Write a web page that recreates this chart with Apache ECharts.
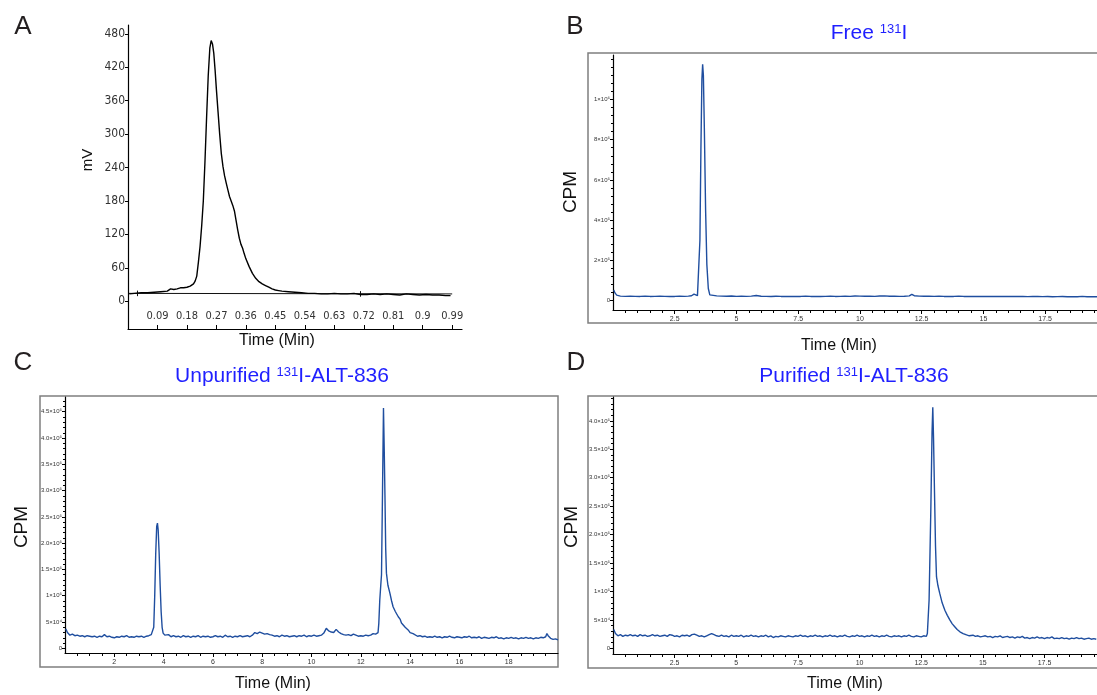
<!DOCTYPE html>
<html>
<head>
<meta charset="utf-8">
<script src="https://cdn.jsdelivr.net/npm/echarts@6/dist/echarts.min.js"></script>
<style>html,body{margin:0;padding:0;background:#fff}#c{width:1097px;height:695px}</style>
</head>
<body>
<div id="c"></div>
<script>
// ---------- Panel A : radio-HPLC/UV trace (mV vs min) ----------
const traceA = [[0.004,13],[0.02,14],[0.04,15],[0.06,15],[0.08,16],[0.10,17],[0.12,18],[0.13,22],[0.135,24],[0.14,21],[0.15,22],[0.16,24],[0.17,24],[0.18,25],[0.19,27],[0.20,31],[0.205,36],[0.21,45],[0.215,70],[0.22,98],[0.225,135],[0.23,180],[0.235,250],[0.24,330],[0.245,405],[0.25,455],[0.254,468],[0.258,462],[0.262,445],[0.266,415],[0.27,380],[0.275,340],[0.28,300],[0.285,265],[0.29,242],[0.295,225],[0.30,212],[0.305,200],[0.31,188],[0.315,180],[0.32,172],[0.325,162],[0.33,145],[0.335,128],[0.34,113],[0.345,102],[0.35,95],[0.355,85],[0.36,76],[0.37,62],[0.38,50],[0.39,41],[0.40,35],[0.41,31],[0.42,28],[0.43,25],[0.44,22],[0.45,20],[0.46,19],[0.47,18],[0.49,17],[0.51,16],[0.53,15],[0.55,14],[0.57,14],[0.59,13],[0.61,13],[0.63,14],[0.65,13],[0.67,13],[0.69,14],[0.71,12],[0.73,12],[0.75,13],[0.77,12],[0.79,13],[0.81,12],[0.83,11],[0.85,13],[0.87,12],[0.89,11],[0.91,12],[0.93,11],[0.95,11],[0.97,10],[0.985,10]];
const baselineA = [[0.002,14],[0.99,13]];
const markA1 = [[0.029,9],[0.029,19]];
const markA2 = [[0.71,8],[0.71,18]];
const xTicksA = [0.09,0.18,0.27,0.36,0.45,0.54,0.63,0.72,0.81,0.9,0.99];
const yTicksA = [0,60,120,180,240,300,360,420,480];

// ---------- Panel B : Free 131I ----------
const traceB = [[0.03,52e3],[0.08,38e3],[0.15,27e3],[0.3,22e3],[0.5,21e3],[0.7,22e3],[0.9,21e3],[1.1,20.5e3],[1.3,21.5e3],[1.5,20.5e3],[1.7,21e3],[1.9,22e3],[2.1,21e3],[2.3,20e3],[2.5,20.5e3],[2.7,21.5e3],[2.9,21e3],[3.05,22e3],[3.18,24e3],[3.28,32e3],[3.35,29e3],[3.42,24e3],[3.48,30e3],[3.52,300e3],[3.56,750e3],[3.60,1100e3],[3.63,1175e3],[3.66,1120e3],[3.70,850e3],[3.75,450e3],[3.80,180e3],[3.86,60e3],[3.92,28e3],[4.0,23e3],[4.2,23e3],[4.4,22e3],[4.6,21.5e3],[4.8,22.5e3],[5.0,21e3],[5.2,21.5e3],[5.4,20.5e3],[5.6,22e3],[5.8,25e3],[6.0,21.5e3],[6.2,21e3],[6.4,20e3],[6.6,21.5e3],[6.8,20.5e3],[7.0,21e3],[7.2,20e3],[7.4,21e3],[7.6,20.5e3],[7.8,21.5e3],[8.0,20.5e3],[8.2,21e3],[8.4,20e3],[8.6,21e3],[8.8,21.5e3],[9.0,20.5e3],[9.2,21e3],[9.4,22e3],[9.6,21e3],[9.8,22.5e3],[10.0,22e3],[10.2,21.5e3],[10.4,22e3],[10.6,21e3],[10.8,22.5e3],[11.0,23e3],[11.2,21.5e3],[11.4,22e3],[11.6,21e3],[11.8,21.5e3],[12.0,23e3],[12.1,31e3],[12.2,24e3],[12.4,22e3],[12.6,21.5e3],[12.8,22e3],[13.0,21e3],[13.2,21.5e3],[13.4,20.5e3],[13.6,21e3],[13.8,20.5e3],[14.0,21.5e3],[14.2,20.5e3],[14.4,20e3],[14.6,21e3],[14.8,20.5e3],[15.0,21e3],[15.2,20e3],[15.4,20.5e3],[15.6,21e3],[15.8,20e3],[16.0,20.5e3],[16.2,21e3],[16.4,20e3],[16.6,20.5e3],[16.8,19.5e3],[17.0,20e3],[17.2,20.5e3],[17.4,19.5e3],[17.6,20e3],[17.8,19e3],[18.0,19.5e3],[18.2,20e3],[18.4,19e3],[18.6,19.5e3],[18.8,19e3],[19.0,20.5e3],[19.2,19e3],[19.4,19.5e3],[19.6,19e3]];
const xTicksB = [2.5,5,7.5,10,12.5,15,17.5];
const yTicksB = [0,2e5,4e5,6e5,8e5,1e6];
const yLabelsB = ['0','2×10⁵','4×10⁵','6×10⁵','8×10⁵','1×10⁶'];
const yMinorB = [0,4e4,8e4,12e4,16e4,20e4,24e4,28e4,32e4,36e4,40e4,44e4,48e4,52e4,56e4,60e4,64e4,68e4,72e4,76e4,80e4,84e4,88e4,92e4,96e4,100e4,104e4,108e4,112e4,116e4,120e4];

// ---------- Panel C : Unpurified 131I-ALT-836 ----------
const traceC = [[0.03,37e3],[0.1,30e3],[0.2,25e3],[0.3,27e3],[0.4,24e3],[0.5,25e3],[0.6,23e3],[0.7,24e3],[0.8,22e3],[0.9,24e3],[1.0,23e3],[1.1,22e3],[1.2,23e3],[1.3,21e3],[1.4,23e3],[1.5,22e3],[1.6,26e3],[1.7,22e3],[1.8,23e3],[1.9,21e3],[2.0,20e3],[2.1,22e3],[2.2,21e3],[2.3,23e3],[2.4,22e3],[2.5,24e3],[2.6,21e3],[2.7,22e3],[2.8,21e3],[2.9,23e3],[3.0,22e3],[3.1,23e3],[3.2,21e3],[3.3,23e3],[3.4,24e3],[3.5,26e3],[3.56,28e3],[3.6,40e3],[3.64,100e3],[3.68,180e3],[3.72,232e3],[3.75,238e3],[3.78,225e3],[3.82,180e3],[3.86,120e3],[3.9,70e3],[3.94,40e3],[3.98,29e3],[4.05,25e3],[4.1,23e3],[4.2,26e3],[4.3,22e3],[4.4,24e3],[4.5,22e3],[4.6,23e3],[4.7,21e3],[4.8,24e3],[4.9,22e3],[5.0,23e3],[5.1,21e3],[5.2,23e3],[5.3,22e3],[5.4,24e3],[5.5,21e3],[5.6,23e3],[5.7,22e3],[5.8,23e3],[5.9,21e3],[6.0,22e3],[6.1,24e3],[6.2,22e3],[6.3,23e3],[6.4,21e3],[6.5,25e3],[6.6,22e3],[6.7,23e3],[6.8,21e3],[6.9,23e3],[7.0,22e3],[7.1,24e3],[7.2,22e3],[7.3,23e3],[7.4,24e3],[7.5,22e3],[7.6,25e3],[7.7,30e3],[7.8,28e3],[7.9,31e3],[8.0,29e3],[8.1,27e3],[8.2,28e3],[8.3,26e3],[8.4,25e3],[8.5,23e3],[8.6,24e3],[8.7,22e3],[8.8,25e3],[8.9,23e3],[9.0,24e3],[9.1,22e3],[9.2,23e3],[9.3,24e3],[9.4,22e3],[9.5,24e3],[9.6,23e3],[9.7,25e3],[9.8,22e3],[9.9,24e3],[10.0,23e3],[10.1,25e3],[10.2,23e3],[10.3,24e3],[10.4,25e3],[10.5,29e3],[10.6,38e3],[10.7,33e3],[10.8,31e3],[10.9,30e3],[11.0,36e3],[11.1,31e3],[11.2,28e3],[11.3,26e3],[11.4,25e3],[11.5,26e3],[11.6,24e3],[11.7,27e3],[11.8,25e3],[11.9,23e3],[12.0,24e3],[12.1,23e3],[12.2,25e3],[12.3,24e3],[12.4,25e3],[12.5,28e3],[12.6,27e3],[12.66,29e3],[12.7,30e3],[12.73,47e3],[12.77,92e3],[12.81,120e3],[12.84,140e3],[12.88,295e3],[12.92,457e3],[12.95,380e3],[12.98,290e3],[13.01,190e3],[13.04,143e3],[13.1,120e3],[13.18,105e3],[13.25,90e3],[13.31,79e3],[13.4,70e3],[13.52,60e3],[13.6,55e3],[13.65,48e3],[13.72,46e3],[13.8,40e3],[13.92,35e3],[14.0,30e3],[14.12,28e3],[14.2,25e3],[14.3,23e3],[14.4,24e3],[14.5,22e3],[14.6,23e3],[14.7,21e3],[14.8,22e3],[14.9,21e3],[15.0,23e3],[15.1,21e3],[15.2,22e3],[15.3,20e3],[15.4,22e3],[15.5,21e3],[15.6,23e3],[15.7,21e3],[15.8,20e3],[15.9,22e3],[16.0,21e3],[16.1,20e3],[16.2,22e3],[16.3,21e3],[16.4,23e3],[16.5,20e3],[16.6,21e3],[16.7,20e3],[16.8,22e3],[16.9,19e3],[17.0,21e3],[17.1,20e3],[17.2,19e3],[17.3,21e3],[17.4,20e3],[17.5,22e3],[17.6,19e3],[17.7,20e3],[17.8,18e3],[17.9,20e3],[18.0,19e3],[18.1,21e3],[18.2,19e3],[18.3,20e3],[18.4,18e3],[18.5,20e3],[18.6,19e3],[18.7,21e3],[18.8,19e3],[18.9,20e3],[19.0,18e3],[19.1,20e3],[19.2,19e3],[19.3,21e3],[19.4,20e3],[19.5,22e3],[19.55,28e3],[19.6,24e3],[19.7,19e3],[19.8,17e3],[19.9,18e3],[20.0,16e3]];
const xTicksC = [2,4,6,8,10,12,14,16,18];
const yTicksC = [0,5e4,10e4,15e4,20e4,25e4,30e4,35e4,40e4,45e4];
const yLabelsC = ['0','5×10⁴','1×10⁵','1.5×10⁵','2.0×10⁵','2.5×10⁵','3.0×10⁵','3.5×10⁵','4.0×10⁵','4.5×10⁵'];
const yMinorC = [0,1e4,2e4,3e4,4e4,5e4,6e4,7e4,8e4,9e4,10e4,11e4,12e4,13e4,14e4,15e4,16e4,17e4,18e4,19e4,20e4,21e4,22e4,23e4,24e4,25e4,26e4,27e4,28e4,29e4,30e4,31e4,32e4,33e4,34e4,35e4,36e4,37e4,38e4,39e4,40e4,41e4,42e4,43e4,44e4,45e4,46e4,47e4];

// ---------- Panel D : Purified 131I-ALT-836 ----------
const traceD = [[0.03,33e3],[0.1,26e3],[0.2,22e3],[0.3,24e3],[0.4,21e3],[0.5,23e3],[0.6,22e3],[0.7,24e3],[0.8,22e3],[0.9,23e3],[1.0,21e3],[1.1,24e3],[1.2,22e3],[1.3,23e3],[1.4,21e3],[1.5,22e3],[1.6,24e3],[1.7,22e3],[1.8,23e3],[1.9,21e3],[2.0,22e3],[2.1,23e3],[2.2,21e3],[2.3,24e3],[2.4,23e3],[2.5,21e3],[2.6,22e3],[2.7,20e3],[2.8,23e3],[2.9,22e3],[3.0,23e3],[3.1,21e3],[3.2,24e3],[3.3,25e3],[3.4,23e3],[3.5,21e3],[3.6,22e3],[3.7,20e3],[3.8,22e3],[3.9,24e3],[4.0,26e3],[4.1,24e3],[4.2,22e3],[4.3,21e3],[4.4,23e3],[4.5,21e3],[4.6,22e3],[4.7,20e3],[4.8,23e3],[4.9,21e3],[5.0,22e3],[5.1,21e3],[5.2,23e3],[5.3,20e3],[5.4,22e3],[5.5,21e3],[5.6,23e3],[5.7,21e3],[5.8,22e3],[5.9,20e3],[6.0,22e3],[6.1,21e3],[6.2,23e3],[6.3,20e3],[6.4,22e3],[6.5,19e3],[6.6,21e3],[6.7,20e3],[6.8,22e3],[6.9,21e3],[7.0,20e3],[7.1,22e3],[7.2,21e3],[7.3,20e3],[7.4,22e3],[7.5,21e3],[7.6,23e3],[7.7,21e3],[7.8,22e3],[7.9,20e3],[8.0,22e3],[8.1,21e3],[8.2,23e3],[8.3,21e3],[8.4,22e3],[8.5,20e3],[8.6,22e3],[8.7,21e3],[8.8,23e3],[8.9,21e3],[9.0,22e3],[9.1,20e3],[9.2,22e3],[9.3,21e3],[9.4,23e3],[9.5,21e3],[9.6,20e3],[9.7,22e3],[9.8,21e3],[9.9,23e3],[10.0,21e3],[10.1,22e3],[10.2,20e3],[10.3,22e3],[10.4,21e3],[10.5,23e3],[10.6,21e3],[10.7,22e3],[10.8,20e3],[10.9,22e3],[11.0,21e3],[11.1,23e3],[11.2,21e3],[11.3,20e3],[11.4,22e3],[11.5,21e3],[11.6,22e3],[11.7,20e3],[11.8,22e3],[11.9,21e3],[12.0,23e3],[12.1,21e3],[12.2,20e3],[12.3,22e3],[12.4,21e3],[12.5,20e3],[12.6,22e3],[12.71,21e3],[12.75,26e3],[12.82,85e3],[12.89,243e3],[12.94,380e3],[12.97,424e3],[13.0,370e3],[13.04,273e3],[13.08,180e3],[13.12,126e3],[13.18,110e3],[13.25,97e3],[13.35,80e3],[13.46,67e3],[13.56,58e3],[13.66,50e3],[13.76,43e3],[13.86,38e3],[13.96,33e3],[14.07,29e3],[14.2,26e3],[14.34,23.5e3],[14.45,22e3],[14.6,23e3],[14.7,21e3],[14.8,22e3],[14.9,20e3],[15.0,21e3],[15.1,22e3],[15.2,20e3],[15.3,21e3],[15.4,19e3],[15.5,21e3],[15.6,20e3],[15.7,22e3],[15.8,19e3],[15.9,20e3],[16.0,21e3],[16.1,19e3],[16.2,20e3],[16.3,18e3],[16.4,20e3],[16.5,19e3],[16.6,21e3],[16.7,18e3],[16.8,19e3],[16.9,17e3],[17.0,19e3],[17.1,18e3],[17.2,20e3],[17.3,18e3],[17.4,19e3],[17.5,17e3],[17.6,19e3],[17.7,18e3],[17.8,20e3],[17.9,17e3],[18.0,18e3],[18.1,17e3],[18.2,19e3],[18.3,17e3],[18.4,18e3],[18.5,16e3],[18.6,18e3],[18.7,17e3],[18.8,19e3],[18.9,17e3],[19.0,18e3],[19.1,16e3],[19.2,17e3],[19.3,18e3],[19.4,16e3],[19.5,17e3],[19.6,16e3]];
const xTicksD = [2.5,5,7.5,10,12.5,15,17.5];
const yTicksD = [0,5e4,10e4,15e4,20e4,25e4,30e4,35e4,40e4];
const yLabelsD = ['0','5×10⁴','1×10⁵','1.5×10⁵','2.0×10⁵','2.5×10⁵','3.0×10⁵','3.5×10⁵','4.0×10⁵'];
const yMinorD = [0,1e4,2e4,3e4,4e4,5e4,6e4,7e4,8e4,9e4,10e4,11e4,12e4,13e4,14e4,15e4,16e4,17e4,18e4,19e4,20e4,21e4,22e4,23e4,24e4,25e4,26e4,27e4,28e4,29e4,30e4,31e4,32e4,33e4,34e4,35e4,36e4,37e4,38e4,39e4,40e4,41e4,42e4,43e4,44e4];

// minor x ticks (min) shared by B, C, D
const xMinor = [0.5,1,1.5,2,2.5,3,3.5,4,4.5,5,5.5,6,6.5,7,7.5,8,8.5,9,9.5,10,10.5,11,11.5,12,12.5,13,13.5,14,14.5,15,15.5,16,16.5,17,17.5,18,18.5,19,19.5];

// ---------- chart ----------
const FONT = 'Liberation Sans, Arial, Helvetica, sans-serif';
const NARROW = 'Liberation Sans Narrow, DejaVu Sans Condensed, Arial Narrow, Liberation Sans, sans-serif';
const BLUE = '#1f4e9f';
const TITLE_BLUE = '#1f1fff';

function mainX(grid, min, max, ticks, labelSize, inside) {
  return {type:'value', gridIndex:grid, position:'bottom', min:min, max:max, splitLine:{show:false},
    axisLine:{show:true, onZero:false, lineStyle:{color:'#000', width:1.2}},
    axisTick:{show:true, customValues:ticks, length:4, inside:!!inside, lineStyle:{color:'#000'}},
    axisLabel:{show:true, customValues:ticks, inside:!!inside, margin: inside?7:6, fontSize:labelSize, color:'#333', fontFamily: inside?NARROW:FONT}};
}
function minorX(grid, min, max, ticks) {
  return {type:'value', gridIndex:grid, position:'bottom', offset:0, min:min, max:max, splitLine:{show:false},
    axisLine:{show:false, onZero:false}, axisLabel:{show:false},
    axisTick:{show:true, customValues:ticks, length:3, lineStyle:{color:'#000', width:1}}};
}
function mainY(grid, min, max, ticks, labels, labelSize, font) {
  return {type:'value', gridIndex:grid, position:'left', min:min, max:max, splitLine:{show:false},
    axisLine:{show:true, onZero:false, lineStyle:{color:'#000', width:1.2}},
    axisTick:{show:true, customValues:ticks, length:3, lineStyle:{color:'#000'}},
    axisLabel:{show:true, customValues:ticks, margin:3, fontSize:labelSize, color:'#333', fontFamily:font||FONT,
      formatter: labels ? function(v){ const i = ticks.indexOf(v); return i>=0 ? labels[i] : ''; } : undefined}};
}
function minorY(grid, min, max, ticks) {
  return {type:'value', gridIndex:grid, position:'left', offset:0, min:min, max:max, splitLine:{show:false},
    axisLine:{show:false, onZero:false}, axisLabel:{show:false},
    axisTick:{show:true, customValues:ticks, length:2, lineStyle:{color:'#000', width:1}}};
}
function line(xi, yi, data, color, width) {
  return {type:'line', xAxisIndex:xi, yAxisIndex:yi, data:data, symbol:'none', showSymbol:false,
    lineStyle:{color:color, width:width}, animation:false, silent:true, z:3};
}
function txt(x, y, text, size, color, rot, rich) {
  const o = {type:'text', x:x, y:y, rotation: rot||0, z:10,
    style:{text:text, fontSize:size, fill:color, fontFamily:FONT, align:'center', verticalAlign:'middle'}};
  if (rich) o.style.rich = rich;
  return o;
}
function frame(x, y, w, h) {
  return {type:'rect', shape:{x:x, y:y, width:w, height:h}, z:0,
    style:{fill:'none', stroke:'#7f7f7f', lineWidth:1.5}};
}
const titleRich = {
  n:{fontSize:21, fill:TITLE_BLUE, fontFamily:FONT, verticalAlign:'bottom'},
  s:{fontSize:13, fill:TITLE_BLUE, fontFamily:FONT, verticalAlign:'top'}
};

const option = {
  backgroundColor:'#fff',
  animation:false,
  grid:[
    {left:128, top:25, width:334, height:304},
    {left:613, top:55, width:484, height:255},
    {left:65, top:397, width:493, height:256},
    {left:613, top:397, width:484, height:257}
  ],
  xAxis:[
    mainX(0, 0, 1.02, xTicksA, 11, true),
    mainX(1, 0, 19.6, xTicksB, 7),
    minorX(1, 0, 19.6, xMinor),
    mainX(2, 0, 20, xTicksC, 7),
    minorX(2, 0, 20, xMinor),
    mainX(3, 0, 19.63, xTicksD, 7),
    minorX(3, 0, 19.63, xMinor)
  ],
  yAxis:[
    mainY(0, -50, 496, yTicksA, null, 12, NARROW),
    mainY(1, -4.7e4, 1.221e6, yTicksB, yLabelsB, 6),
    minorY(1, -4.7e4, 1.221e6, yMinorB),
    mainY(2, -8.9e3, 4.78e5, yTicksC, yLabelsC, 6),
    minorY(2, -8.9e3, 4.78e5, yMinorC),
    mainY(3, -1e4, 4.42e5, yTicksD, yLabelsD, 6),
    minorY(3, -1e4, 4.42e5, yMinorD)
  ],
  series:[
    line(0, 0, baselineA, '#111', 1),
    line(0, 0, markA1, '#111', 1),
    line(0, 0, markA2, '#111', 1),
    line(0, 0, traceA, '#000', 1.4),
    line(1, 1, traceB, BLUE, 1.4),
    line(3, 3, traceC, BLUE, 1.4),
    line(5, 5, traceD, BLUE, 1.4)
  ],
  graphic:[
    frame(588, 53, 520, 270),
    frame(40, 396, 518, 271),
    frame(588, 396, 520, 272),
    txt(23, 27, 'A', 26, '#231f20'),
    txt(575, 27, 'B', 26, '#231f20'),
    txt(23, 363, 'C', 26, '#231f20'),
    txt(576, 363, 'D', 26, '#231f20'),
    txt(869, 33, '{n|Free }{s|131}{n|I}', 21, TITLE_BLUE, 0, titleRich),
    txt(282, 376, '{n|Unpurified }{s|131}{n|I-ALT-836}', 21, TITLE_BLUE, 0, titleRich),
    txt(854, 376, '{n|Purified }{s|131}{n|I-ALT-836}', 21, TITLE_BLUE, 0, titleRich),
    txt(88, 160, 'mV', 15, '#111', Math.PI/2),
    txt(571, 192, 'CPM', 19, '#111', Math.PI/2),
    txt(22, 527, 'CPM', 19, '#111', Math.PI/2),
    txt(572, 527, 'CPM', 19, '#111', Math.PI/2),
    txt(277, 341, 'Time (Min)', 16, '#111'),
    txt(839, 346, 'Time (Min)', 16, '#111'),
    txt(273, 684, 'Time (Min)', 16, '#111'),
    txt(845, 684, 'Time (Min)', 16, '#111')
  ]
};
const chart = echarts.init(document.getElementById('c'), null, {renderer:'canvas'});
chart.setOption(option);
</script>
</body>
</html>
